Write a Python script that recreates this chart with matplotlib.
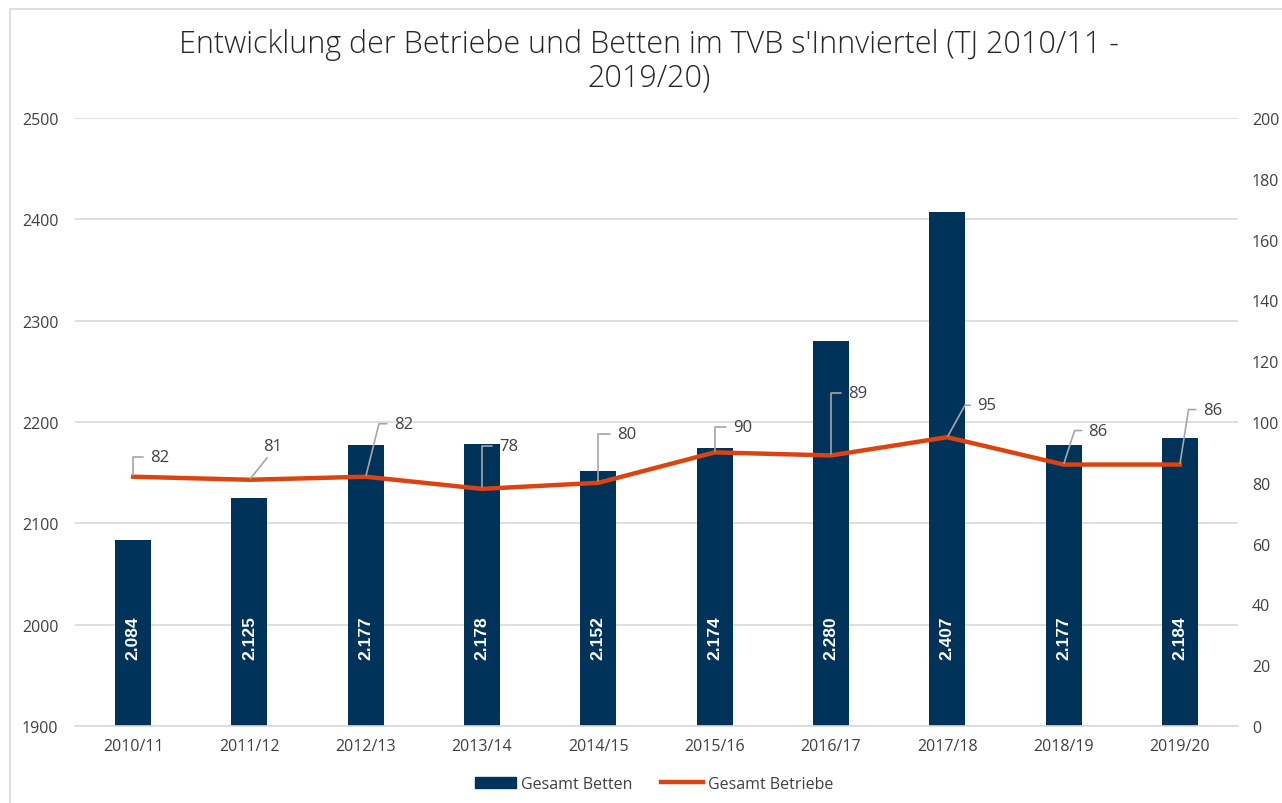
import matplotlib.pyplot as plt
from matplotlib.lines import Line2D
from matplotlib.patches import Patch, Rectangle

plt.rcParams['font.family'] = ['Open Sans', 'DejaVu Sans']

seasons = ['2010/11', '2011/12', '2012/13', '2013/14', '2014/15',
           '2015/16', '2016/17', '2017/18', '2018/19', '2019/20']
betten = [2084, 2125, 2177, 2178, 2152, 2174, 2280, 2407, 2177, 2184]
betriebe = [82, 81, 82, 78, 80, 90, 89, 95, 86, 86]
bar_labels = ['2.084', '2.125', '2.177', '2.178', '2.152',
              '2.174', '2.280', '2.407', '2.177', '2.184']

# label offsets (pixels) and leader angle for the line labels
lbl_off = [(17, 20), (14, 34), (28, 53), (17, 43), (19, 49),
           (18, 25), (17, 62), (30, 32), (25, 34), (23, 55)]
lead_ang = [90, None, 76, 90, 90, 90, 90, 61, 72, 81]

navy = '#00335a'
orange = '#db4410'
grid_c = '#d9d9d9'
txt_c = '#404040'

fig = plt.figure(figsize=(12.82, 8.04), dpi=100)
ax = fig.add_axes([75/1282, 1-727/804, (1238-75)/1282, (727-119)/804])
ax2 = ax.twinx()

x = list(range(len(seasons)))
ax.bar(x, betten, width=0.31, color=navy, zorder=2)
ax.set_ylim(1900, 2500)
ax.set_xlim(-0.5, len(seasons)-0.5)
ax.set_yticks(range(1900, 2501, 100))
ax.set_xticks(x)
ax.set_xticklabels(seasons)
ax.yaxis.grid(True, color=grid_c, lw=1.2, zorder=0)
ax.set_axisbelow(True)
for s in ['top', 'right', 'left']:
    ax.spines[s].set_visible(False)
ax.spines['bottom'].set_color(grid_c)
ax.spines['bottom'].set_linewidth(1.2)
ax.tick_params(length=0, labelsize=11.5, colors=txt_c)
ax.tick_params(axis='y', pad=12)
ax.tick_params(axis='x', pad=9)

for xi, lab in zip(x, bar_labels):
    ax.text(xi, 1966, lab, rotation=90, ha='center', va='bottom',
            color='white', fontsize=12.5, fontweight='bold', zorder=3,
            family=['Liberation Sans', 'DejaVu Sans'])

ax2.plot(x, betriebe, color=orange, lw=3.2, solid_joinstyle='round', zorder=4)
ax2.set_ylim(0, 200)
ax2.set_yticks(range(0, 201, 20))
for s in ax2.spines.values():
    s.set_visible(False)
ax2.tick_params(length=0, labelsize=11.5, colors=txt_c, pad=10)

for xi, v, (dx, dy), ang in zip(x, betriebe, lbl_off, lead_ang):
    if ang is None:
        ap = dict(arrowstyle='-', color='#a6a6a6', lw=1.2,
                  relpos=(0.4, 0.05), shrinkA=1, shrinkB=1)
    else:
        ap = dict(arrowstyle='-', color='#a6a6a6', lw=1.2,
                  connectionstyle=f'angle,angleA=0,angleB={ang},rad=0',
                  relpos=(0, 0.5), shrinkA=3, shrinkB=1)
    ax2.annotate(str(v), xy=(xi, v), xytext=(dx, dy), textcoords='offset pixels',
                 ha='left', va='center', fontsize=12, color=txt_c,
                 arrowprops=ap, zorder=5)

fig.text(0.506, 1-62/804,
         "Entwicklung der Betriebe und Betten im TVB s'Innviertel (TJ 2010/11 -\n2019/20)",
         ha='center', va='center', fontsize=22, color='#262626',
         fontweight='light', linespacing=1.05)

handles = [Patch(color=navy), Line2D([], [], color=orange, lw=3.2)]
fig.legend(handles, ['Gesamt Betten', 'Gesamt Betriebe'], loc='center',
           bbox_to_anchor=(0.51, 1-785/804), ncol=2, frameon=False,
           fontsize=11.5, labelcolor=txt_c, handlelength=2.6, columnspacing=1.8,
           handletextpad=0.3)

fig.patches.append(Rectangle((10/1282, -0.01), 1.02, 1-10/804+0.01,
                             transform=fig.transFigure, fill=False,
                             edgecolor=grid_c, lw=1.2))

fig.savefig('out.png', dpi=100)
